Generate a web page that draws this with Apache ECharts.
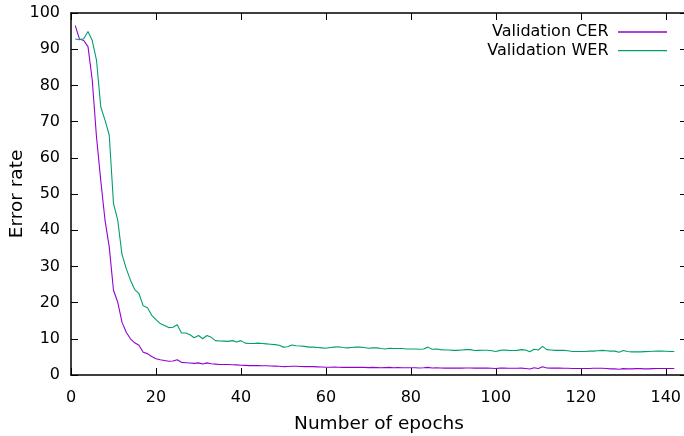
<!DOCTYPE html>
<html>
<head>
<meta charset="utf-8">
<script src="https://cdn.jsdelivr.net/npm/echarts@6/dist/echarts.min.js"></script>
<style>
html,body{margin:0;padding:0;background:#fff;}
#chart{width:684px;height:436px;}
</style>
</head>
<body>
<div id="chart"></div>
<script>
// Epoch numbers 1..142
const epochs = [];
for (let i = 1; i <= 142; i++) epochs.push(i);

const cerValues = [
  96.5, 92.8, 92.4, 90.7, 81.5, 65.8, 53.8, 42.8, 35.4, 23.4,
  20.1, 14.6, 11.8, 10.0, 8.9, 8.2, 6.3, 5.9, 5.1, 4.5,
  4.2, 4.0, 3.8, 3.85, 4.2, 3.5, 3.4, 3.3, 3.2, 3.35,
  3.05, 3.35, 3.1, 3.0, 2.9, 2.9, 2.9, 2.85, 2.8, 2.7,
  2.65, 2.6, 2.6, 2.6, 2.55, 2.55, 2.5, 2.45, 2.4, 2.3,
  2.35, 2.4, 2.4, 2.35, 2.3, 2.3, 2.3, 2.25, 2.2, 2.15,
  2.15, 2.2, 2.15, 2.1, 2.15, 2.1, 2.1, 2.15, 2.1, 2.05,
  2.1, 2.05, 2.0, 2.05, 2.1, 2.0, 2.05, 2.0, 2.0, 2.0,
  2.0, 1.95, 2.0, 2.1, 1.95, 2.0, 1.95, 1.9, 1.95, 1.9,
  1.95, 1.9, 1.95, 1.95, 1.9, 1.9, 1.95, 1.9, 1.85, 1.8,
  1.9, 1.9, 1.85, 1.85, 1.85, 1.9, 1.8, 1.65, 2.0, 1.8,
  2.3, 1.95, 1.9, 1.9, 1.9, 1.85, 1.85, 1.8, 1.8, 1.8,
  1.8, 1.8, 1.85, 1.85, 1.85, 1.8, 1.7, 1.7, 1.6, 1.75,
  1.7, 1.7, 1.75, 1.75, 1.7, 1.7, 1.75, 1.8, 1.8, 1.8,
  1.8, 1.8
];

const werValues = [
  92.8, 92.6, 92.9, 94.9, 92.4, 87.0, 74.1, 70.4, 66.3, 47.4,
  42.8, 33.3, 29.4, 26.2, 23.6, 22.5, 19.1, 18.6, 16.5, 15.3,
  14.2, 13.7, 13.1, 13.2, 13.9, 11.6, 11.6, 11.1, 10.3, 10.9,
  10.0, 10.9, 10.4, 9.5, 9.4, 9.35, 9.3, 9.5, 9.1, 9.5,
  8.8, 8.7, 8.7, 8.8, 8.7, 8.6, 8.5, 8.4, 8.2, 7.7,
  7.8, 8.3, 8.1, 8.0, 7.9, 7.7, 7.7, 7.6, 7.5, 7.4,
  7.6, 7.7, 7.8, 7.6, 7.5, 7.6, 7.7, 7.7, 7.6, 7.4,
  7.5, 7.5, 7.3, 7.2, 7.4, 7.3, 7.3, 7.3, 7.2, 7.2,
  7.2, 7.1, 7.2, 7.7, 7.1, 7.2, 7.0, 6.9, 6.9, 6.8,
  6.8, 6.9, 7.0, 7.0, 6.75, 6.8, 6.85, 6.85, 6.7, 6.5,
  6.8, 6.9, 6.8, 6.75, 6.8, 7.0, 6.9, 6.4, 7.1, 6.9,
  7.9, 7.0, 6.9, 6.8, 6.8, 6.8, 6.7, 6.5, 6.5, 6.5,
  6.5, 6.6, 6.6, 6.7, 6.8, 6.7, 6.6, 6.6, 6.3, 6.75,
  6.5, 6.4, 6.4, 6.4, 6.45, 6.5, 6.55, 6.6, 6.6, 6.55,
  6.5, 6.5
];

const seriesNames = ['Validation CER', 'Validation WER'];
const xTitle = 'Number of epochs';
const yTitle = 'Error rate';

const FONT = 'DejaVu Sans';
const chart = echarts.init(document.getElementById('chart'), null, {renderer: 'canvas'});

const border = {show: true, onZero: false, lineStyle: {color: '#000', width: 1.5}};
const tickIn = {show: true, inside: true, length: 7, lineStyle: {color: '#000', width: 1}};

chart.setOption({
  animation: false,
  backgroundColor: '#fff',
  grid: {left: 71, top: 13, width: 616, height: 362, containLabel: false, outerBoundsMode: 'none'},
  legend: {
    data: seriesNames,
    orient: 'vertical',
    right: 17,
    top: 23,
    padding: 0,
    align: 'right',
    icon: 'rect',
    itemWidth: 49,
    itemHeight: 1.3,
    itemGap: 0.6,
    textStyle: {fontFamily: FONT, fontSize: 16, color: '#000', lineHeight: 18, padding: [0, 4.5, 0, 0]}
  },
  xAxis: [
    {
      type: 'value', min: 0, max: 145, interval: 20, position: 'bottom',
      name: xTitle, nameLocation: 'middle', nameGap: 40, nameMoveOverlap: false,
      nameTextStyle: {fontFamily: FONT, fontSize: 18.5, color: '#000'},
      axisLine: border, axisTick: tickIn,
      axisLabel: {fontFamily: FONT, fontSize: 16, color: '#000', margin: 15, showMaxLabel: false},
      splitLine: {show: false}
    },
    {
      type: 'value', min: 0, max: 145, interval: 20, position: 'top',
      axisLine: border, axisTick: tickIn, axisLabel: {show: false}, splitLine: {show: false}
    }
  ],
  yAxis: [
    {
      type: 'value', min: 0, max: 100, interval: 10, position: 'left',
      name: yTitle, nameLocation: 'middle', nameGap: 44, nameMoveOverlap: false,
      nameTextStyle: {fontFamily: FONT, fontSize: 18.5, color: '#000'},
      axisLine: border, axisTick: tickIn,
      axisLabel: {fontFamily: FONT, fontSize: 16, color: '#000', margin: 11},
      splitLine: {show: false}
    },
    {
      type: 'value', min: 0, max: 100, interval: 10, position: 'right',
      axisLine: border, axisTick: tickIn, axisLabel: {show: false}, splitLine: {show: false}
    }
  ],
  series: [
    {
      name: seriesNames[0], type: 'line', symbol: 'none', xAxisIndex: 0, yAxisIndex: 0,
      data: epochs.map((e, i) => [e, cerValues[i]]),
      lineStyle: {color: '#9400d3', width: 1.1}, itemStyle: {color: '#9400d3'}
    },
    {
      name: seriesNames[1], type: 'line', symbol: 'none', xAxisIndex: 0, yAxisIndex: 0,
      data: epochs.map((e, i) => [e, werValues[i]]),
      lineStyle: {color: '#009e73', width: 1.1}, itemStyle: {color: '#009e73'}
    }
  ]
});
</script>
</body>
</html>
